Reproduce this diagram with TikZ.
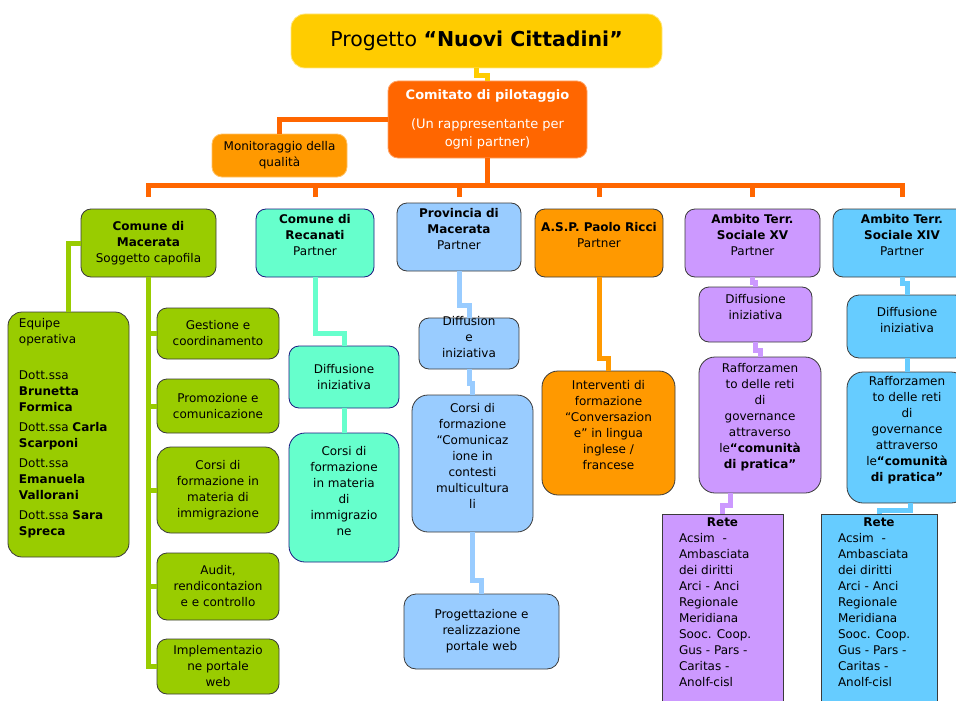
\documentclass[tikz,border=0pt]{standalone}
\usepackage{fontspec}
\setmainfont{DejaVu Sans}
\definecolor{giallo}{HTML}{FFCC00}
\definecolor{arancio}{HTML}{FF6600}
\definecolor{arancione}{HTML}{FF9900}
\definecolor{verde}{HTML}{99CC00}
\definecolor{acqua}{HTML}{66FFCC}
\definecolor{celeste}{HTML}{99CCFF}
\definecolor{lilla}{HTML}{CC99FF}
\definecolor{azzurro}{HTML}{66CCFF}
\definecolor{bordo}{HTML}{3A3A3A}
\definecolor{blunotte}{HTML}{1A1A80}
\newcommand{\bt}[4]{\parbox[c][#2pt][c]{#1pt}{\centering #4\par\vspace{#3pt}}}
\newcommand{\retetxt}[1]{\parbox[c][206pt][t]{#1pt}{\vspace*{4pt}\centering\textbf{Rete}\par
        \raggedright\leftskip=17pt Acsim~~-\\Ambasciata\\dei diritti\\Arci - Anci\\Regionale\\Meridiana\\Sooc. Coop.\\Gus - Pars -\\Caritas -\\Anolf-cisl}}
\begin{document}
    \begin{tikzpicture}[x=1pt,y=-1pt,
        box/.style={draw=bordo,line width=0.8pt,rounded corners=10pt,inner sep=0pt,font=\fontsize{12}{16}\selectfont},
        link/.style={line width=5pt}]
        \useasboundingbox (0,0) rectangle (956,701);
        \clip (0,0) rectangle (956,701);
        \node[box,fill=giallo,draw=giallo!50!white,rounded corners=14pt,font=\fontsize{20.5}{24}\selectfont] (title) at (476.5,41) {\bt{371}{54}{0}{Progetto \textbf{“Nuovi Cittadini”}}};
        \node[box,fill=arancio,draw=arancio!60!white,text=white,font=\fontsize{13}{18}\selectfont] (comitato) at (487.5,119.5) {\bt{199}{77}{0}{\textbf{Comitato di pilotaggio}\\[11pt](Un rappresentante per\\ogni partner)}};
        \node[box,fill=arancione,draw=arancione!60!white] (monit) at (279.5,155.5) {\bt{135}{43}{0}{Monitoraggio della\\qualità}};
        \coordinate (bar) at (487.5,185);
        \coordinate (drop) at (0,197);
        \node[box,fill=verde] (cmac) at (148.5,243) {\bt{135}{68}{0}{\textbf{Comune di}\\\textbf{Macerata}\\Soggetto capofila}};
        \node[box,fill=acqua,draw=blunotte] (crec) at (315,243) {\bt{118}{68}{16}{\textbf{Comune di}\\\textbf{Recanati}\\Partner}};
        \node[box,fill=celeste] (prov) at (459,237) {\bt{124}{68}{16}{\textbf{Provincia di}\\\textbf{Macerata}\\Partner}};
        \node[box,fill=arancione] (asp) at (599,243) {\bt{128}{68}{16}{\textbf{A.S.P. Paolo Ricci}\\Partner}};
        \node[box,fill=lilla] (atsxv) at (752.5,243) {\bt{135}{68}{15}{\textbf{Ambito Terr.}\\\textbf{Sociale XV}\\Partner}};
        \node[box,fill=azzurro] (atsxiv) at (902,243) {\bt{138}{68}{15}{\textbf{Ambito Terr.}\\\textbf{Sociale XIV}\\Partner}};
        \node[box,fill=verde,rounded corners=14pt] (equipe) at (68.5,434.5) {\parbox[c][245pt][t]{121pt}{\raggedright\leftskip=11pt\parskip=4pt\vspace*{2pt}
            Equipe\\operativa\par\vspace{16pt}
            Dott.ssa\\\textbf{Brunetta}\\\textbf{Formica}\par
            Dott.ssa \textbf{Carla}\\\textbf{Scarponi}\par
            Dott.ssa\\\textbf{Emanuela}\\\textbf{Vallorani}\par
            Dott.ssa \textbf{Sara}\\\textbf{Spreca}}};
        \node[box,fill=verde] (gest) at (218,333.5) {\bt{122}{51}{0}{Gestione e\\coordinamento}};
        \node[box,fill=verde] (prom) at (218,406) {\bt{122}{54}{0}{Promozione e\\comunicazione}};
        \node[box,fill=verde,rounded corners=14pt] (gcorsi) at (218,490) {\bt{122}{86}{0}{Corsi di\\formazione in\\materia di\\immigrazione}};
        \node[box,fill=verde] (audit) at (218,586.5) {\bt{122}{67}{0}{Audit,\\rendicontazion\\e e controllo}};
        \node[box,fill=verde] (impl) at (218,666.5) {\bt{122}{55}{0}{Implementazio\\ne portale\\web}};
        \node[box,fill=acqua,draw=blunotte] (rdiff) at (344,377) {\bt{110}{62}{0}{Diffusione\\iniziativa}};
        \node[box,fill=acqua,draw=blunotte,rounded corners=16pt] (rcorsi) at (344,497.5) {\bt{110}{129}{13}{Corsi di\\formazione\\in materia\\di\\immigrazio\\ne}};
        \node[box,fill=celeste] (pdiff) at (469,343.5) {\bt{100}{51}{13}{Diffusion\\e\\iniziativa}};
        \node[box,fill=celeste,rounded corners=16pt] (pcorsi) at (472.5,463.5) {\bt{121}{137}{15}{Corsi di\\formazione\\“Comunicaz\\ione in\\contesti\\multicultura\\li}};
        \node[box,fill=celeste,rounded corners=12pt] (pprog) at (481.5,631.5) {\bt{155}{75}{0}{Progettazione e\\realizzazione\\portale web}};
        \node[box,fill=arancione,rounded corners=16pt] (interv) at (608.5,433) {\bt{133}{124}{15}{Interventi di\\formazione\\“Conversazion\\e” in lingua\\inglese /\\francese}};
        \node[box,fill=lilla] (xdiff) at (755.5,314.5) {\bt{113}{55}{15}{Diffusione\\iniziativa}};
        \node[box,fill=lilla,rounded corners=16pt] (xraff) at (760,425) {\bt{122}{136}{16}{Rafforzamen\\to delle reti\\di\\governance\\attraverso\\le\textbf{“comunità}\\\textbf{di pratica”}}};
        \node[box,fill=lilla,sharp corners] (xrete) at (722.5,617) {\retetxt{121}};
        \node[box,fill=azzurro,rounded corners=12pt] (ydiff) at (907,326.5) {\bt{120}{63}{13}{Diffusione\\iniziativa}};
        \node[box,fill=azzurro,rounded corners=16pt] (yraff) at (907,437.5) {\bt{120}{131}{15}{Rafforzamen\\to delle reti\\di\\governance\\attraverso\\le\textbf{“comunità}\\\textbf{di pratica”}}};
        \node[box,fill=azzurro,sharp corners] (yrete) at (879,617) {\retetxt{116}};
        \draw[link,giallo] (title.south) -- ++(0,7) -| (comitato.north);
        \draw[link,arancio] (comitato.west) -| (monit.north);
        \draw[link,arancio] (comitato.south) -- (bar);
        \foreach \n in {cmac,crec,prov,asp,atsxv,atsxiv}
            \draw[link,arancio] (\n.north |- drop) |- (bar);
        \draw[link,verde] (cmac.west) -| (equipe.north);
        \draw[link,verde] (cmac.south) |- (impl.west);
        \foreach \b in {gest,prom,gcorsi,audit}
            \draw[link,verde] (\b.west) -- (\b.west -| cmac.south);
        \draw[link,acqua] (crec.south) -- ++(0,56) -| (rdiff.north);
        \draw[link,acqua] (rdiff.south) -- (rcorsi.north);
        \draw[link,celeste] (prov.south) -- ++(0,34) -| (pdiff.north);
        \draw[link,celeste] (pdiff.south) -- ++(0,14) -| (pcorsi.north);
        \draw[link,celeste] (pcorsi.south) -- ++(0,48) -| (pprog.north);
        \draw[link,arancione] (asp.south) -- ++(0,81) -| (interv.north);
        \draw[link,lilla] (atsxv.south) -- ++(0,5) -| (xdiff.north);
        \draw[link,lilla] (xdiff.south) -- ++(0,8) -| (xraff.north);
        \draw[link,lilla] ([xshift=-30pt]xraff.south) -- ++(0,12) -| (xrete.north);
        \draw[link,azzurro] (atsxiv.south) -- ++(0,6) -| (ydiff.north);
        \draw[link,azzurro] (ydiff.south) -- (yraff.north);
        \draw[link,azzurro] ([xshift=3pt]yraff.south) -- ++(0,7) -| (yrete.north);
    \end{tikzpicture}
\end{document}
